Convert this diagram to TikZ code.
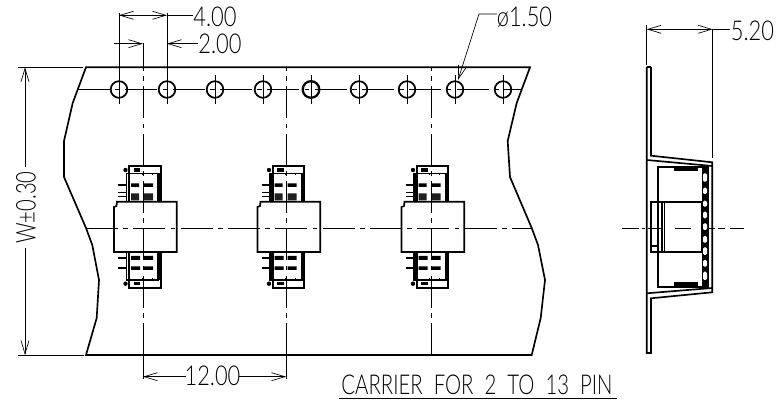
\documentclass[tikz,border=0pt]{standalone}
\usepackage{fontspec}
\setmainfont{Lato}[UprightFont=* Light]
\usetikzlibrary{arrows.meta}
\tikzset{
  thickl/.style={line width=1.25pt,line join=miter},
  thinl/.style={line width=0.5pt},
  centerl/.style={line width=0.55pt,dash pattern=on 24pt off 4pt on 3.5pt off 4pt},
  dim/.style={line width=0.5pt,{Straight Barb[length=10pt,width=6pt,line width=0.5pt]}-{Straight Barb[length=10pt,width=6pt,line width=0.5pt]}},
  dimr/.style={line width=0.5pt,-{Straight Barb[length=10pt,width=6pt,line width=0.5pt]}},
  labbase/.style={inner sep=0pt,font=\fontsize{20.5pt}{20.5pt}\selectfont,transform shape},
  lab/.style={labbase,xscale=0.8},
  blob/.style={fill=black,draw=none}
}
\newcommand{\holeat}[2][line width=1.3pt]{\draw[#1] (#2,89.5) circle[radius=8.3];
  \draw[thinl] (#2,75)--(#2,104);}
\newcommand{\conn}[1]{%
\begin{scope}[shift={(#1,0)}]
 \fill[blob] (131,183.5) rectangle (139,187) (144,183.5) rectangle (153,187);
 \fill[blob,black!88] (131,193.5) rectangle (139,200.5) (144,193.5) rectangle (153,200.5);
 \draw[line width=1.8pt] (118,185)--(127,185);
 \draw[thinl] (118,192)--(127,192) (118,196)--(127,196);
 \fill[blob] (131,256) rectangle (140,260) (144,256) rectangle (153,260);
 \fill[blob] (131,266.5) rectangle (140,270) (144,266.5) rectangle (153,270);
 \draw[line width=1.4pt] (118,257.7)--(127,257.7) (118,268.3)--(127,268.3);
 \foreach \sh/\ys in {0/1,453.7/-1}{
 \begin{scope}[shift={(0,\sh)},yscale=\ys]
  \draw[thickl] (129.3,201.7)--(129.3,166)--(160.7,166)--(160.7,201.7);
  \draw[thickl] (126.5,201.7)--(126.5,173.5)--(158.3,173.5)--(158.3,201.7);
  \draw[thinl] (128,201.7)--(128,173.5) (159.5,201.7)--(159.5,173.5);
  \draw[thinl] (142,175.3)--(142,173)--(152,173)--(152,175.3);
  \fill[blob] (125.5,170) circle[radius=2.2];
  \fill[blob] (133.5,168.5) rectangle (140,172);
 \end{scope}}
 \draw[thickl,fill=white] (114,207)--(116.5,206)--(117,201.7)--(176.7,201.7)--(176.7,252)--(114,252)--cycle;
\end{scope}}
\begin{document}
\begin{tikzpicture}[x=0.75pt,y=-0.75pt]
\useasboundingbox (0,0) rectangle (779,402);
% carrier outline
\draw[thickl] (86,67.3)--(530,67.3)--(516.7,103)--(507.7,141)--(510,177)--(531.7,228)--(538,245)--(545,280)--(540.7,318)--(531.7,355)--(86,355)--(96.7,318)--(99,280)--(92.3,245)--(86,228)--(64,177)--(64,141)--(72.7,103)--cycle;
% connectors
\conn{0}\conn{143.5}\conn{287.5}
% centre lines
\draw[centerl] (143,355)--(143,67.3);
\draw[centerl] (286,355)--(286,67.3);
\draw[centerl] (431,355)--(431,67.3);
\draw[centerl] (78,89.5)--(521,89.5);
\draw[centerl] (86,228)--(532,228);
% holes
\foreach \hx in {119,167,215,263,359,407,455,503}{\holeat{\hx}}
\holeat[line width=1.7pt]{311}
% 4.00 dimension
\draw[thinl] (119,13)--(119,75) (167,13)--(167,75) (143,43)--(143,67.3);
\draw[dim] (119,15.3)--(167,15.3);
\draw[thinl] (167,15.3)--(193,15.3);
\node[lab] (t4) at (215,17) {4.00};
% 2.00 dimension
\draw[dimr] (114,43.7)--(143,43.7);
\draw[dimr] (198,43.7)--(167,43.7);
\node[lab] (t2) at (220,44) {2.00};
% diameter
\draw[dimr] (497,14)--(479,14)--(458,80);
\node[lab] (td) at (524.5,17) {ø1.50};
% W
\draw[thinl] (18,67.3)--(83,67.3) (18,355)--(84,355);
\draw[dimr] (25,167)--(25,67.3);
\draw[dimr] (25,248)--(25,355);
\node[labbase,rotate=90,xscale=0.74] (tw) at (26,207.5) {W±0.30};
% 12.00
\draw[thinl] (143,355)--(143,379) (286,355)--(286,379);
\draw[dimr] (186,376.7)--(143,376.7);
\draw[dimr] (239,376.7)--(286,376.7);
\node[lab] (t12) at (212.5,376) {12.00};
% caption
\node[labbase,xscale=0.744] (cap) at (477,385) {CARRIER\ \ FOR\ \ 2\ \ TO\ \ 13\ \ PIN};
\draw[line width=0.9pt] (339,398.3)--(617,398.3);
% side view
\draw[thickl] (646.7,67)--(651,67);
\draw[thickl] (646.7,67)--(646.7,353)--(651,353)--(651,298.3)--(712.3,292.3)--(712.3,162.3)--(651,155.7)--(651,67);
\draw[thickl] (646.7,160)--(712.3,166) (646.7,293.3)--(712.3,288);
\draw[thickl] (657.7,166.7)--(708.3,166.7)--(708.3,287.3)--(657.7,287.3)--cycle;
\fill[blob] (674.3,167.7) rectangle (698.3,170.7);
\fill[blob] (674.3,282.5) rectangle (698.3,287);
\fill[blob] (701.7,166.7) rectangle (708.3,287.3);
\foreach \ya/\yb in {173.3/181.7,187.7/194,200.7/206.7,211.7/218.3,223.3/230,236/242.7,247.3/255,260/266.7,271.7/280}{
  \fill[white,rounded corners=1pt] (703,\ya) rectangle (707,\yb);}
\draw[thickl] (651,201.7) rectangle (701.7,252.3);
\draw[thickl] (662.3,201.7)--(662.3,252.3) (657.7,201.7)--(657.7,252.3);
\draw[thinl] (664,201.7)--(664,252.3);
\draw[thickl] (651,245.7)--(657.7,245.7);
\draw[thinl] (622,228.3)--(639.3,228.3) (642,228.3)--(645,228.3) (648,228.3)--(661.7,228.3) (675,228.3)--(691,228.3) (708.3,228.3)--(715,228.3) (718.3,228.3)--(725,228.3) (730,228.3)--(744,228.3);
% 5.20
\draw[thinl] (646.7,25)--(646.7,65) (712.7,29)--(712.7,158);
\draw[dim] (646.7,29.3)--(712.7,29.3);
\draw[thinl] (712.7,29.3)--(730,29.3);
\node[lab] (t5) at (752.5,30.5) {5.20};
\end{tikzpicture}
\end{document}
